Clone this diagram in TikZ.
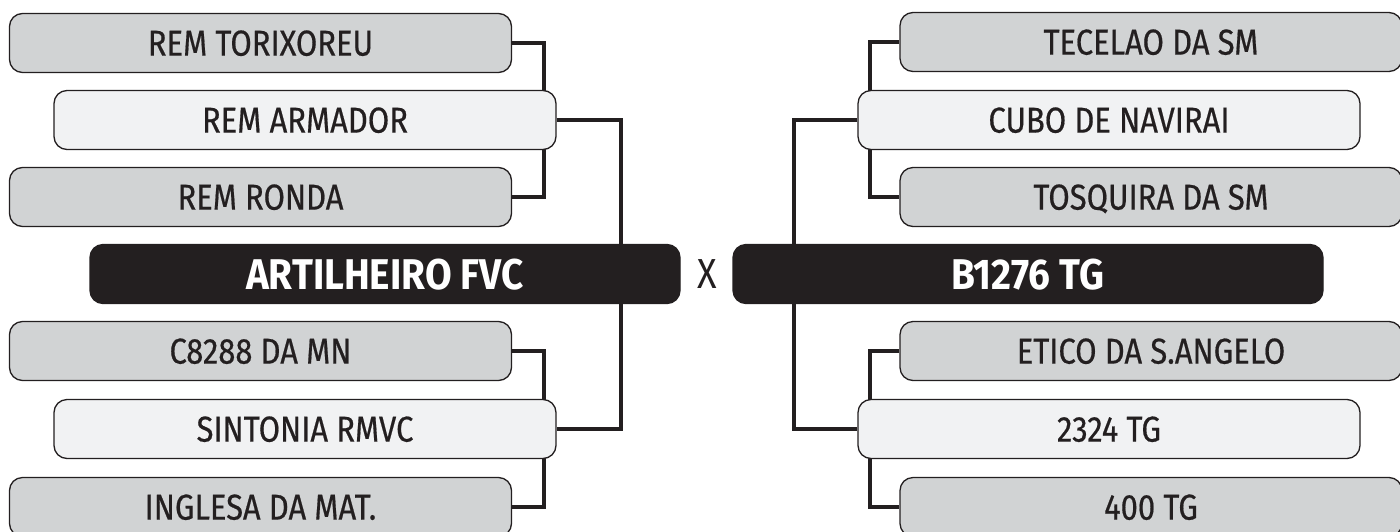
\documentclass[tikz,border=0pt]{standalone}
\usepackage{fontspec}
\setmainfont[FakeStretch=0.86]{Fira Sans}
\newfontfamily\teamfont[FakeStretch=0.86,FakeBold=0.5]{Fira Sans}
\newfontfamily\finalfont[FakeStretch=0.9]{Fira Sans}
\definecolor{ink}{HTML}{231F20}
\definecolor{grayfill}{HTML}{D1D3D4}
\definecolor{lightfill}{HTML}{F1F2F3}
\tikzset{
  teambox/.style={draw=ink, line width=1.3pt, rounded corners=13pt, minimum width=502pt,
    minimum height=59pt, inner sep=0pt, text depth=0pt, text=ink,
    font=\teamfont\fontsize{36}{36}\selectfont},
  grayteam/.style={teambox, fill=grayfill},
  lightteam/.style={teambox, fill=lightfill},
  finalist/.style={teambox, fill=ink, text=white, minimum width=590pt,
    font=\finalfont\fontsize{43}{43}\selectfont\bfseries},
  link/.style={draw=ink, line width=4.5pt}
}
\begin{document}
\begin{tikzpicture}[x=1pt,y=-1pt]
\useasboundingbox (0,0) rectangle (1400,531);
\clip (0,0) rectangle (1400,531);
% left side nodes
\node[grayteam]  (tor) at (260.5,43)  {REM TORIXOREU};
\node[grayteam]  (ron) at (260.5,197) {REM RONDA};
\node[grayteam]  (c82) at (260.5,351) {C8288 DA MN};
\node[grayteam]  (ing) at (260.5,507) {INGLESA DA MAT.};
% right side gray nodes
\node[grayteam]  (tec) at (1151,42)  {TECELAO DA SM};
\node[grayteam]  (tos) at (1151,197) {TOSQUIRA DA SM};
\node[grayteam]  (eti) at (1151,351) {ETICO DA S.ANGELO};
\node[grayteam]  (tg4) at (1151,507) {400 TG};
% connectors behind middle boxes
\coordinate (lx1) at (544,0);
\coordinate (lx2) at (621,0);
\coordinate (rx1) at (870,0);
\coordinate (rx2) at (794,0);
\draw[link] (tor.east) -| (lx1 |- tor.east) |- (ron.east);
\draw[link] (c82.east) -| (lx1 |- c82.east) |- (ing.east);
\draw[link] (tec.west) -| (rx1 |- tec.west) |- (tos.west);
\draw[link] (eti.west) -| (rx1 |- eti.west) |- (tg4.west);
% light nodes
\node[lightteam] (arm) at (305,120)  {REM ARMADOR};
\node[lightteam] (sin) at (305,429)  {SINTONIA RMVC};
\node[lightteam] (cub) at (1109,120) {CUBO DE NAVIRAI};
\node[lightteam] (t23) at (1109,429) {2324 TG};
\draw[link] (arm.east) -| (lx2 |- arm.east) |- (sin.east);
\draw[link] (cub.west) -| (rx2 |- cub.west) |- (t23.west);
% finalists
\node[finalist] (art) at (385,274)  {ARTILHEIRO FVC};
\node[finalist] (b12) at (1028,274) {B1276 TG};
\node[text=ink, inner sep=0pt, font=\fontsize{42}{42}\selectfont] (vs) at (707,274) {X};
\end{tikzpicture}
\end{document}
